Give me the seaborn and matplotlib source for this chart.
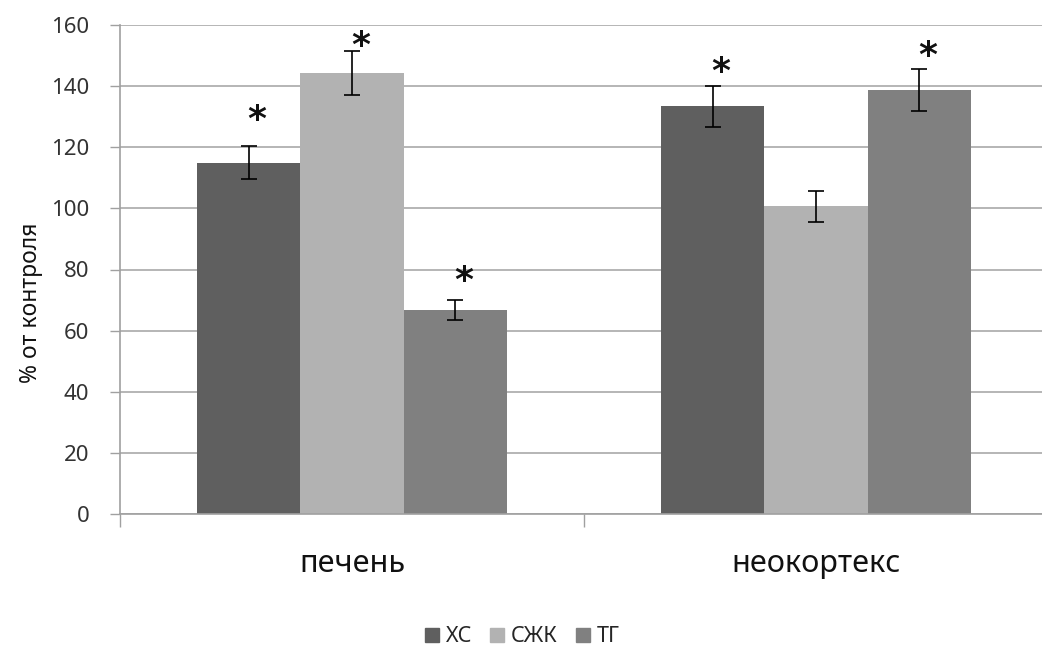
import numpy as np
import pandas as pd
import matplotlib
matplotlib.use("Agg")
import matplotlib.pyplot as plt
import seaborn as sns
from matplotlib.lines import Line2D

# данные
organs = ["печень", "неокортекс"]
series = ["ХС", "СЖК", "ТГ"]
values = {
    "ХС": [115.0, 133.4],
    "СЖК": [144.3, 100.7],
    "ТГ": [66.7, 138.7],
}
errors = {
    "ХС": [5.5, 6.8],
    "СЖК": [7.3, 5.0],
    "ТГ": [3.3, 6.8],
}
# высота звёздочек (значимость), None — нет звёздочки
stars = {
    "ХС": [130.6, 146.4],
    "СЖК": [155.1, None],
    "ТГ": [78.2, 151.8],
}
colors = {"ХС": "#5f5f5f", "СЖК": "#b2b2b2", "ТГ": "#808080"}
y_ticks = [0, 20, 40, 60, 80, 100, 120, 140, 160]

sns.set_style("white")
plt.rcParams['font.family'] = ['Noto Sans', 'DejaVu Sans']

rows = []
for s in series:
    for o, v in zip(organs, values[s]):
        rows.append({"organ": o, "series": s, "value": v})
df = pd.DataFrame(rows)

fig = plt.figure(figsize=(10.42, 6.51), dpi=100)
ax = fig.add_axes([120 / 1042, 1 - 514 / 651, 928 / 1042, 489 / 651])

sns.barplot(data=df, x="organ", y="value", hue="series", order=organs,
            hue_order=series, palette=colors, width=0.668, saturation=1,
            errorbar=None, legend=False, linewidth=0, ax=ax)

# усы погрешностей и звёздочки
for s, cont in zip(series, ax.containers):
    for i, bar in enumerate(cont):
        xc = bar.get_x() + bar.get_width() / 2
        h = bar.get_height()
        ax.errorbar(xc, h, yerr=errors[s][i], fmt="none", ecolor="black",
                    elinewidth=1.2, capsize=6, capthick=1.2, zorder=4)
        if stars[s][i] is not None:
            ax.annotate("*", xy=(xc, stars[s][i]), xytext=(6, -4),
                        textcoords="offset points", ha="center", va="center",
                        fontsize=26, fontweight="bold", color="#111111",
                        family="DejaVu Sans")

ax.set_xlim(-0.5, 1.5)
ax.set_ylim(0, 160)
ax.set_yticks(y_ticks)
ax.set_yticklabels([str(t) for t in y_ticks], fontsize=16, color="#333333")
ax.yaxis.grid(True, color="#b0b0b0", linewidth=1.3)
ax.set_axisbelow(True)

# подписи категорий
ax.set_xticks([0, 1])
ax.set_xticklabels(organs, fontsize=22, color="#111111")
ax.tick_params(axis="x", which="major", length=0, pad=25)
ax.set_xticks([-0.5, 0.5, 1.5], minor=True)
ax.tick_params(axis="x", which="minor", bottom=True, length=9, width=1,
               color="#a0a0a0", direction="out")
ax.tick_params(axis="y", left=True, length=7, width=1, color="#a0a0a0",
               direction="out", pad=15)
ax.set_xlabel("")
ax.set_ylabel("% от контроля", fontsize=16.5, color="#111111")
ax.yaxis.set_label_coords(-0.083, 0.431)

for side in ["top", "right"]:
    ax.spines[side].set_visible(False)
for side in ["left", "bottom"]:
    ax.spines[side].set_color("#a0a0a0")
    ax.spines[side].set_linewidth(1.2)

handles = [Line2D([0], [0], marker="s", linestyle="none", markersize=10,
                  markerfacecolor=colors[s], markeredgecolor=colors[s])
           for s in series]
fig.legend(handles, series, loc="center", bbox_to_anchor=(0.5, 1 - 637 / 651),
           ncol=3, frameon=False, fontsize=15.5, handletextpad=0.2,
           columnspacing=0.7, handlelength=0.9, borderpad=0.1)

plt.savefig("out.png", dpi=100)
